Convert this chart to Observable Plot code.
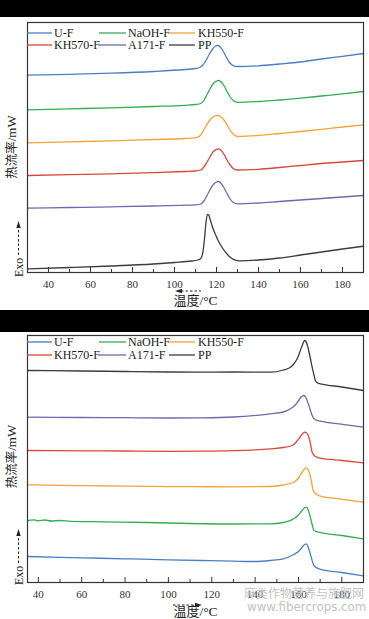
<!DOCTYPE html>
<html><head><meta charset="utf-8">
<script src="https://cdn.jsdelivr.net/npm/d3@7"></script>
<script src="https://cdn.jsdelivr.net/npm/@observablehq/plot@0.6"></script>
<style>
html,body{margin:0;padding:0;background:#fff;}
#root{position:relative;width:369px;height:619px;overflow:hidden;background:#fff;}
.band{position:absolute;left:0;width:369px;background:#000;}
.panel{position:absolute;left:0;}
.wm{position:absolute;color:#c2c2c2;white-space:nowrap;line-height:12px;}
</style></head><body>
<div id="root">
 <div class="band" style="top:0;height:17px"></div>
 <div id="p1" class="panel" style="top:17px"></div>
 <div class="band" style="top:310px;height:22px"></div>
 <div id="p2" class="panel" style="top:332px"></div>
 <div class="wm" style="left:244px;top:587px;font-size:12px;font-family:'Noto Sans CJK SC'">麻类作物营养与施肥网</div>
 <div class="wm" style="left:247px;top:601px;font-size:11.8px;font-family:'DejaVu Sans'">www.fibercrops.com</div>
</div>
<script>
const seriesNames = ["U-F", "NaOH-F", "KH550-F", "KH570-F", "A171-F", "PP"];
const seriesColors = ["#4a7fc1", "#35ad52", "#f2a33a", "#d9483b", "#6f68ad", "#3c3c3c"];
const xTickLabels = [40, 60, 80, 100, 120, 140, 160, 180];
const xMinorTicks = [50, 70, 90, 110, 130, 150, 170];
const xTitleCJK = "温度";
const xTitleUnit = "/°C";
const yTitleCJK = "热流率";
const yTitleUnit = "/mW";
const exoLabel = "Exo";

// Cooling (crystallization) curves: [temperature °C, heat flow (arb., offset)]
const coolUF = [[30,19.73],[50,19.82],[70,19.93],[90,20.1],[105,20.3],[110,20.4],[112,20.5],[113.5,20.75],[115,21.2],[116.5,21.8],[118,22.3],[119.5,22.65],[120.5,22.7],[121.5,22.6],[123,22.2],[124.5,21.6],[126,21.05],[127.5,20.75],[129,20.62],[131,20.6],[140,20.67],[150,20.85],[160,21.05],[170,21.35],[180,21.62],[190,21.9]];
const coolNaOH = [[30,16.27],[50,16.37],[70,16.47],[90,16.6],[105,16.72],[110,16.8],[112.5,16.9],[114,17.2],[115.5,17.8],[117,18.4],[118.5,18.9],[120,19.15],[121,19.2],[122,19.1],[123.5,18.7],[125,18.1],[126.5,17.55],[128,17.2],[130,17.02],[140,17.1],[150,17.25],[160,17.43],[170,17.65],[180,17.87],[190,18.1]];
const coolKH550 = [[30,12.97],[50,13.07],[70,13.17],[90,13.3],[105,13.4],[110,13.47],[112,13.65],[113.5,14.1],[115,14.65],[116.5,15.15],[118,15.5],[119.5,15.67],[120.5,15.7],[121.5,15.65],[123,15.4],[124.5,14.95],[126,14.4],[127.5,13.95],[129,13.67],[131,13.6],[140,13.7],[150,13.9],[160,14.1],[170,14.32],[180,14.55],[190,14.77]];
const coolKH570 = [[30,9.7],[50,9.78],[70,9.87],[90,9.98],[105,10.1],[110,10.15],[112.5,10.25],[114,10.55],[115.5,11.05],[117,11.6],[118.5,12.1],[120,12.32],[121,12.37],[122,12.25],[123.5,11.85],[125,11.25],[126.5,10.75],[128,10.4],[130,10.25],[140,10.32],[150,10.5],[160,10.7],[170,10.9],[180,11.05],[190,11.2]];
const coolA171 = [[30,6.43],[50,6.5],[70,6.57],[90,6.65],[105,6.73],[110,6.77],[112.5,6.85],[114,7.15],[115.5,7.7],[117,8.3],[118.5,8.8],[120,9.05],[121,9.1],[122,8.95],[123.5,8.5],[125,7.9],[126.5,7.35],[128,7.0],[130,6.87],[140,6.95],[150,7.1],[160,7.25],[170,7.4],[180,7.55],[190,7.7]];
const coolPP = [[30,0.37],[50,0.5],[70,0.65],[90,0.85],[100,1.0],[108,1.15],[111,1.25],[112.5,1.4],[113.5,2.0],[114.3,3.4],[115,5.0],[115.7,5.8],[116.3,5.75],[117,5.3],[118,4.6],[119.5,3.8],[121,3.1],[123,2.4],[125,1.85],[127,1.45],[129,1.23],[131,1.17],[140,1.25],[150,1.45],[160,1.75],[170,2.05],[180,2.35],[190,2.63]];

// Heating (melting) curves
const heatUF = [[35,2.6],[60,2.47],[80,2.37],[100,2.27],[115,2.2],[130,2.13],[140,2.1],[147,2.2],[153,2.37],[157.8,2.8],[160,3.1],[161.7,3.53],[162.8,3.8],[163.6,3.87],[164.4,3.6],[165.2,3.03],[166.1,2.35],[167.1,1.7],[169.4,1.37],[180,1.0],[190,0.65]];
const heatNaOH = [[35,6.2],[38,6.27],[40,6.17],[43,6.25],[46,6.15],[50,6.2],[55,6.12],[70,6.07],[90,6.0],[110,5.9],[130,5.85],[147,5.87],[153,6.0],[157.8,6.37],[160,6.75],[161.7,7.2],[162.8,7.47],[163.7,7.53],[164.5,7.25],[165.5,6.53],[166.3,5.8],[167.1,5.2],[169.4,5.03],[180,4.7],[190,4.37]];
const heatKH550 = [[35,9.77],[50,9.72],[70,9.67],[90,9.62],[110,9.58],[130,9.57],[147,9.6],[153,9.75],[157.8,10.03],[160,10.45],[161.7,11.03],[162.8,11.35],[163.7,11.47],[164.5,11.25],[165.2,10.87],[166,10.1],[166.8,9.2],[168.6,8.77],[170.1,8.63],[180,8.33],[190,8.03]];
const heatKH570 = [[35,13.2],[60,13.17],[80,13.15],[100,13.12],[115,13.13],[130,13.18],[147,13.37],[153,13.5],[157.1,13.7],[159,14.05],[160.9,14.6],[162,14.9],[163.2,15.03],[164,14.9],[164.8,14.53],[165.6,13.8],[166.3,13.03],[167.8,12.6],[170.1,12.43],[180,12.2],[190,11.97]];
const heatA171 = [[35,16.53],[60,16.5],[80,16.48],[100,16.45],[115,16.47],[130,16.55],[147,16.87],[153,17.05],[156.3,17.37],[158.5,17.75],[160.1,18.2],[161.3,18.55],[162.4,18.7],[163.4,18.5],[164.3,18.03],[165.3,17.35],[166.3,16.7],[167.8,16.27],[170.1,16.13],[180,15.83],[190,15.53]];
const heatPP = [[35,21.2],[60,21.15],[80,21.1],[100,21.05],[115,21.03],[130,21.05],[147,21.03],[153,21.25],[156.3,21.53],[158,21.9],[159.4,22.37],[160.7,23.1],[161.7,23.7],[162.9,24.2],[164,23.8],[164.7,23.2],[165.5,22.4],[166.3,21.53],[167.1,20.8],[167.8,20.2],[169,19.93],[170.1,19.87],[180,19.55],[190,19.2]];

const serif = "'Liberation Serif', 'Times New Roman', serif";
const cjk = "'Noto Sans CJK SC', sans-serif";

function drawPanel(el, cfg) {
  const data = cfg.series.flatMap((pts, i) => pts.map(([T, v]) => ({name: seriesNames[i], T, v})));
  const frameTop = cfg.marginTop;
  const frameBottom = cfg.height - cfg.marginBottom;
  const frameH = frameBottom - frameTop;
  const chart = Plot.plot({
    width: 369, height: cfg.height,
    marginLeft: 27, marginRight: 6, marginTop: cfg.marginTop, marginBottom: cfg.marginBottom,
    style: {fontFamily: serif, fontSize: "11px", background: "transparent", color: "#333"},
    x: {domain: cfg.xDomain, label: null},
    y: {domain: cfg.yDomain, axis: null},
    color: {domain: seriesNames, range: seriesColors},
    marks: [
      Plot.line(data, {x: "T", y: "v", z: "name", stroke: "name", curve: "monotone-x", strokeWidth: 1.3}),
      Plot.ruleX(xTickLabels, {stroke: "#333", strokeWidth: 1, insetTop: frameH - 5}),
      Plot.ruleX(xMinorTicks, {stroke: "#333", strokeWidth: 1, insetTop: frameH - 3}),
      Plot.axisX({ticks: xTickLabels, tickSize: 0, tickPadding: 8, fill: "#333", fontSize: 11}),
      Plot.frame({stroke: "#333", strokeWidth: 1.2})
    ]
  });
  el.appendChild(chart);
  const svg = d3.select(chart);

  // legend
  const cols = [[27, 52, 54], [99, 126, 128], [169, 195, 198]];
  const lg = svg.append("g").attr("text-anchor", "start");
  seriesNames.forEach((name, i) => {
    const c = cols[i % 3];
    const y = cfg.legendRows[Math.floor(i / 3)];
    lg.append("line").attr("x1", c[0]).attr("x2", c[1]).attr("y1", y).attr("y2", y)
      .attr("stroke", seriesColors[i]).attr("stroke-width", 1.3);
    lg.append("text").attr("x", c[2]).attr("y", y).attr("dy", "0.34em").attr("text-anchor", "start")
      .attr("font-family", serif).attr("font-size", 12).attr("fill", "#222").text(name);
  });

  // y title
  const yt = svg.append("text")
    .attr("transform", `translate(12.5,${cfg.yTitleY}) rotate(-90)`)
    .attr("text-anchor", "middle").attr("dy", "0.36em").attr("fill", "#222");
  yt.append("tspan").attr("font-family", cjk).attr("font-size", 12.5).text(yTitleCJK);
  yt.append("tspan").attr("font-family", serif).attr("font-size", 13).text(yTitleUnit);

  // Exo with dashed arrow up
  const exoBottom = frameBottom + cfg.exoOffset;
  svg.append("text").attr("transform", `translate(23,${exoBottom}) rotate(-90)`).attr("text-anchor", "start")
    .attr("font-family", serif).attr("font-size", 12).attr("fill", "#222").text(exoLabel);
  svg.append("line").attr("x1", 18.5).attr("x2", 18.5)
    .attr("y1", exoBottom - 22).attr("y2", exoBottom - 50)
    .attr("stroke", "#222").attr("stroke-width", 1).attr("stroke-dasharray", "2.5,2");
  svg.append("path")
    .attr("d", `M18.5,${exoBottom - 56} L16.3,${exoBottom - 49} L20.7,${exoBottom - 49} Z`)
    .attr("fill", "#222");

  // x title with dashed arrow
  const xt = svg.append("text").attr("x", 195.5).attr("y", cfg.xTitleY).attr("dy", "0.36em")
    .attr("text-anchor", "middle").attr("fill", "#222");
  xt.append("tspan").attr("font-family", cjk).attr("font-size", 13).text(xTitleCJK);
  xt.append("tspan").attr("font-family", serif).attr("font-size", 13.5).text(xTitleUnit);
  const ay = cfg.arrowY;
  if (cfg.arrowDir < 0) {
    svg.append("line").attr("x1", 181).attr("x2", 201).attr("y1", ay).attr("y2", ay)
      .attr("stroke", "#222").attr("stroke-dasharray", "2.5,2");
    svg.append("path").attr("d", `M175,${ay} L182,${ay - 2.2} L182,${ay + 2.2} Z`).attr("fill", "#222");
  } else {
    svg.append("line").attr("x1", 173).attr("x2", 195).attr("y1", ay).attr("y2", ay)
      .attr("stroke", "#222").attr("stroke-dasharray", "2.5,2");
    svg.append("path").attr("d", `M202,${ay} L195,${ay - 2.2} L195,${ay + 2.2} Z`).attr("fill", "#222");
  }
}

drawPanel(document.getElementById("p1"), {
  height: 293, marginTop: 5, marginBottom: 38,
  xDomain: [30, 190], yDomain: [0, 25],
  series: [coolUF, coolNaOH, coolKH550, coolKH570, coolA171, coolPP],
  legendRows: [16, 28], yTitleY: 130, exoOffset: 5,
  xTitleY: 284, arrowY: 274, arrowDir: -1
});
drawPanel(document.getElementById("p2"), {
  height: 287, marginTop: 3, marginBottom: 37,
  xDomain: [35, 190], yDomain: [0, 24.7],
  series: [heatUF, heatNaOH, heatKH550, heatKH570, heatA171, heatPP],
  legendRows: [10, 23], yTitleY: 124.5, exoOffset: 3,
  xTitleY: 280.5, arrowY: 273, arrowDir: 1
});
</script>
</body></html>
